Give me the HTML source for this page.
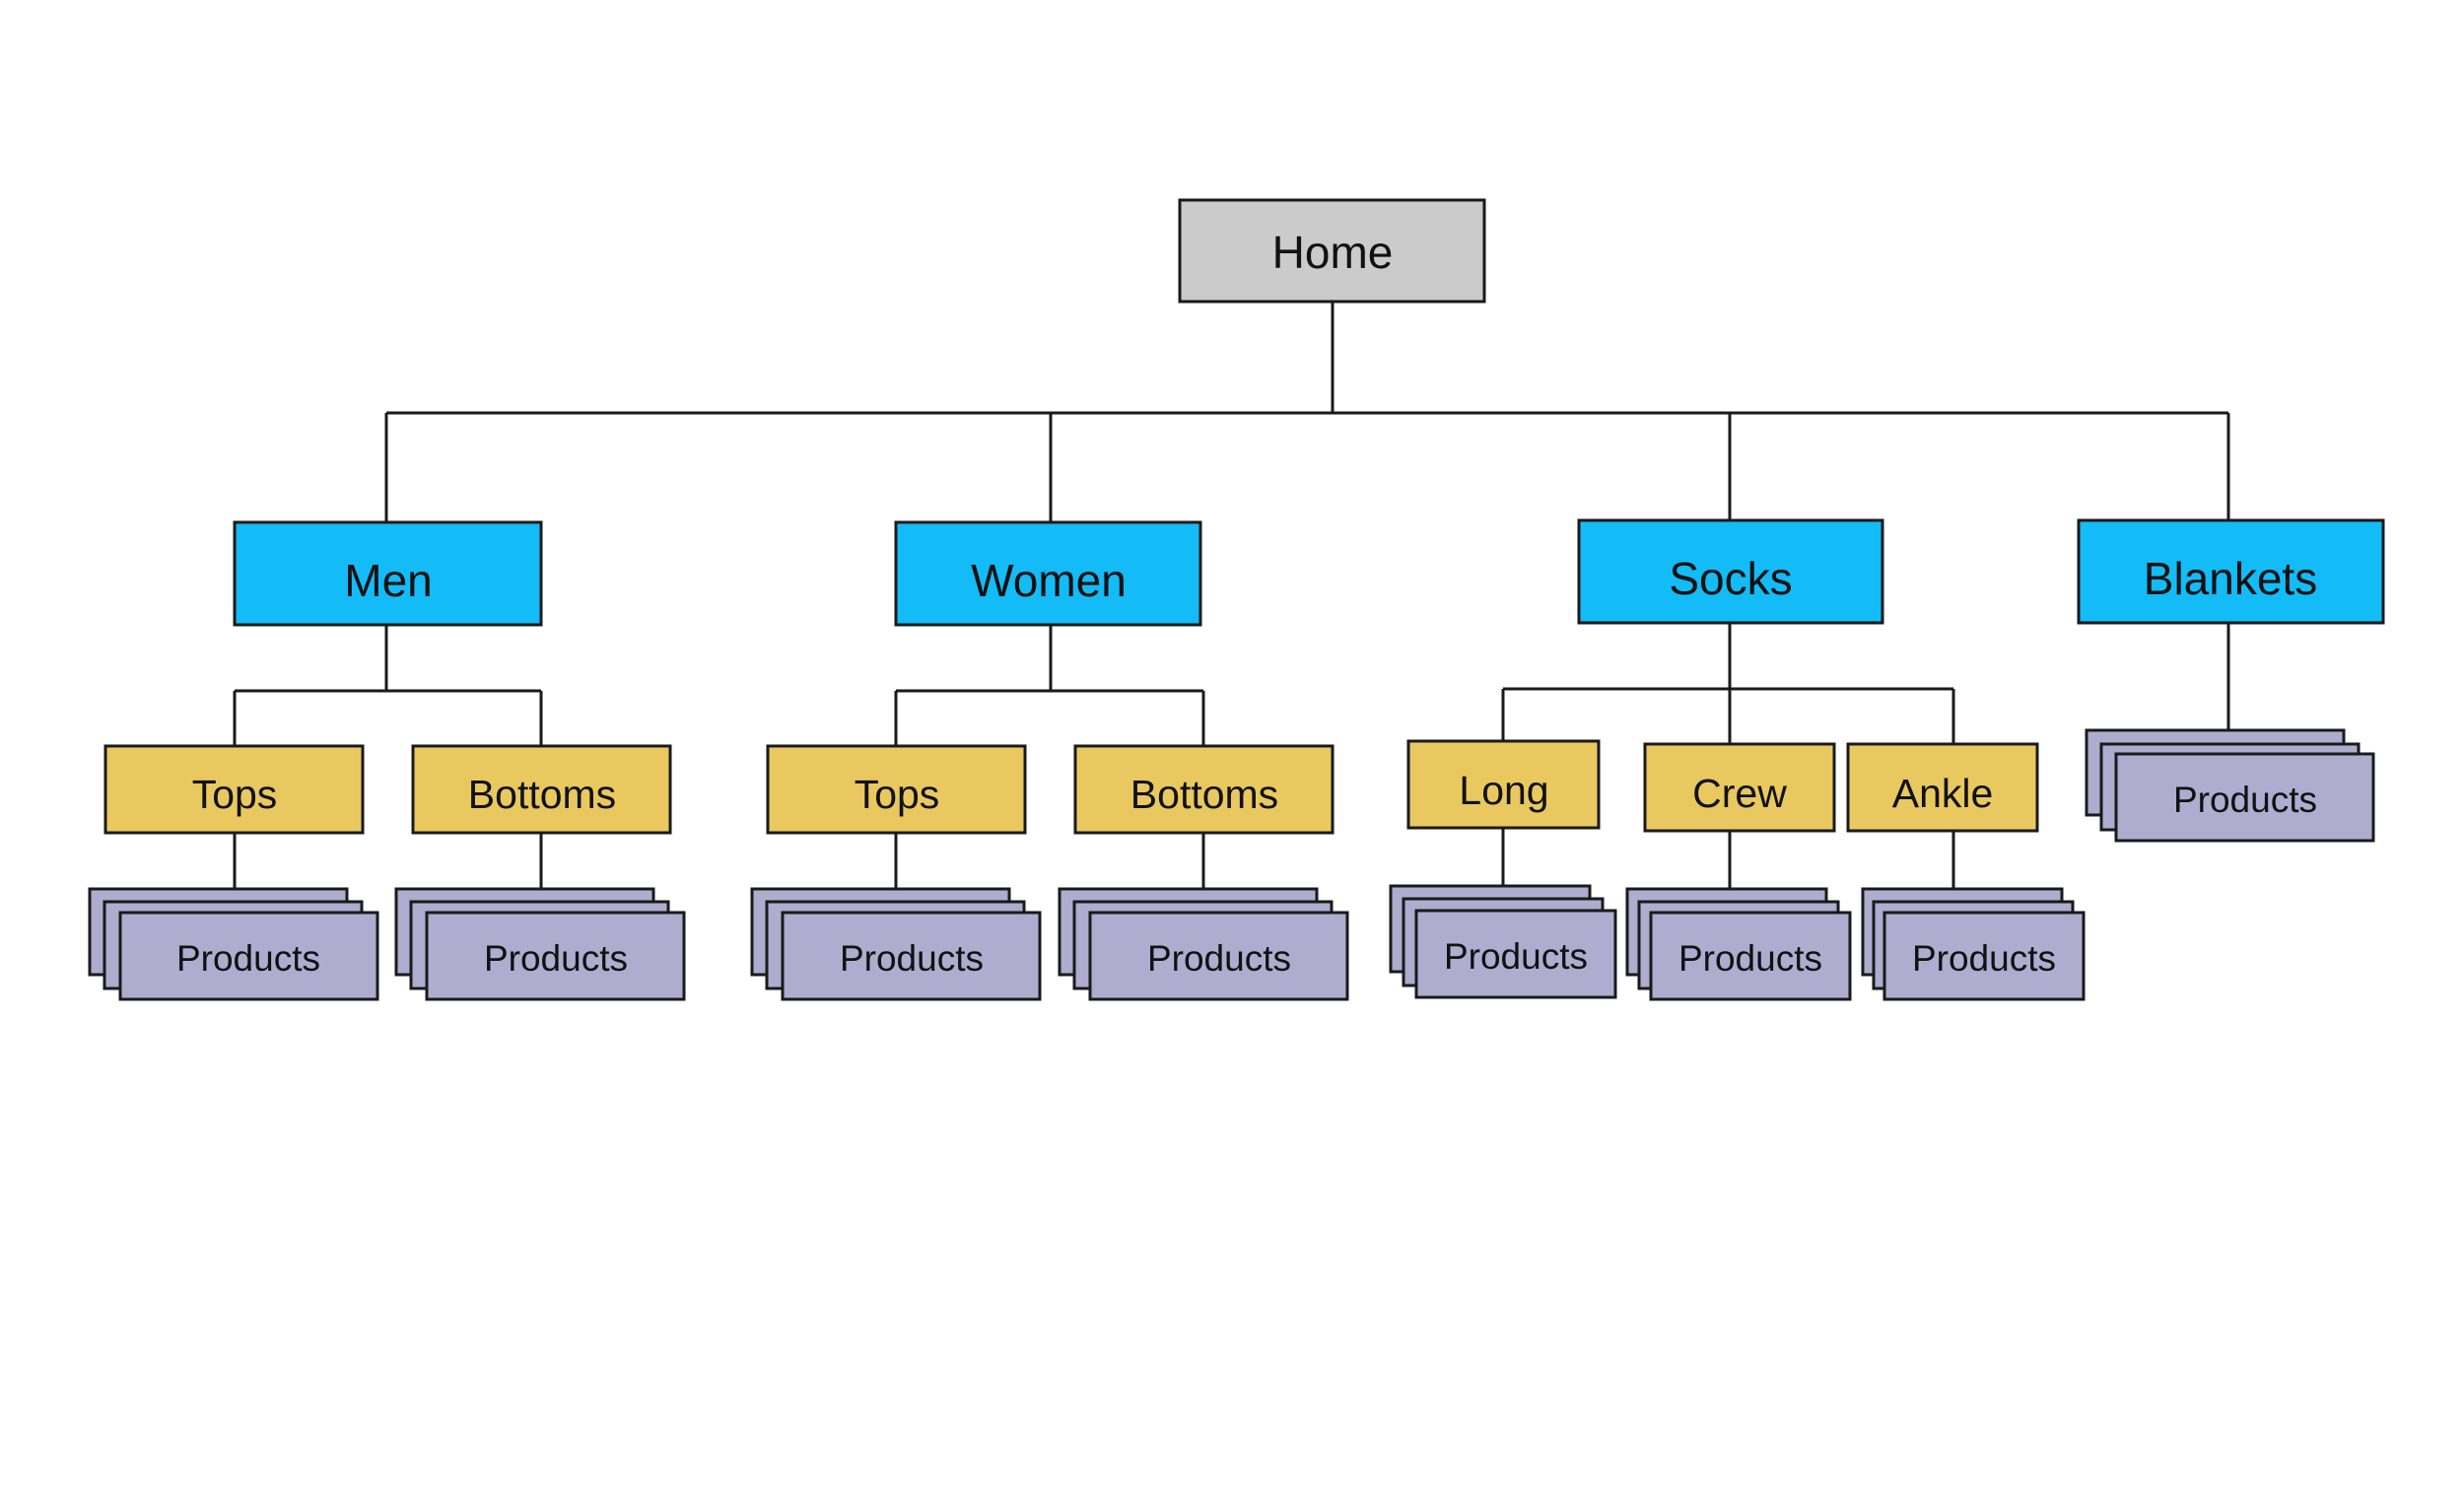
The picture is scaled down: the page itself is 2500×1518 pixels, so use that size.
<!DOCTYPE html>
<html><head><style>html,body{margin:0;padding:0;background:#fff}svg{display:block}</style></head>
<body>
<svg width="2500" height="1518" viewBox="0 0 2500 1518" xmlns="http://www.w3.org/2000/svg" font-family="Liberation Sans, sans-serif">
<g stroke="#1a1a1a" stroke-width="3" fill="none">
<line x1="1352" y1="306" x2="1352" y2="419"/>
<line x1="392" y1="419" x2="2261" y2="419"/>
<line x1="392" y1="419" x2="392" y2="530"/>
<line x1="1066" y1="419" x2="1066" y2="530"/>
<line x1="1755" y1="419" x2="1755" y2="528"/>
<line x1="2261" y1="419" x2="2261" y2="528"/>
<line x1="392" y1="634" x2="392" y2="701"/>
<line x1="238" y1="701" x2="549" y2="701"/>
<line x1="238" y1="701" x2="238" y2="757"/>
<line x1="549" y1="701" x2="549" y2="757"/>
<line x1="1066" y1="634" x2="1066" y2="701"/>
<line x1="909" y1="701" x2="1221" y2="701"/>
<line x1="909" y1="701" x2="909" y2="757"/>
<line x1="1221" y1="701" x2="1221" y2="757"/>
<line x1="1755" y1="632" x2="1755" y2="755"/>
<line x1="1525" y1="699" x2="1982" y2="699"/>
<line x1="1525" y1="699" x2="1525" y2="752"/>
<line x1="1982" y1="699" x2="1982" y2="755"/>
<line x1="2261" y1="632" x2="2261" y2="741"/>
<line x1="238" y1="845" x2="238" y2="902"/>
<line x1="549" y1="845" x2="549" y2="902"/>
<line x1="909" y1="845" x2="909" y2="902"/>
<line x1="1221" y1="845" x2="1221" y2="902"/>
<line x1="1525" y1="840" x2="1525" y2="899"/>
<line x1="1755" y1="843" x2="1755" y2="902"/>
<line x1="1982" y1="843" x2="1982" y2="902"/>
</g>
<g stroke="#1a1a1a" stroke-width="3">
<rect x="1197" y="203" width="309" height="103" fill="#cbcbcc"/>
<rect x="238" y="530" width="311" height="104" fill="#13bbf7"/>
<rect x="909" y="530" width="309" height="104" fill="#13bbf7"/>
<rect x="1602" y="528" width="308" height="104" fill="#13bbf7"/>
<rect x="2109" y="528" width="309" height="104" fill="#13bbf7"/>
<g fill="#e9c95f">
<rect x="107" y="757" width="261" height="88"/>
<rect x="419" y="757" width="261" height="88"/>
<rect x="779" y="757" width="261" height="88"/>
<rect x="1091" y="757" width="261" height="88"/>
<rect x="1429" y="752" width="193" height="88"/>
<rect x="1669" y="755" width="192" height="88"/>
<rect x="1875" y="755" width="192" height="88"/>
</g>
<g fill="#aeadd0">
<rect x="91" y="902" width="261" height="87"/><rect x="106" y="915" width="261" height="88"/><rect x="122" y="926" width="261" height="88"/>
<rect x="402" y="902" width="261" height="87"/><rect x="417" y="915" width="261" height="88"/><rect x="433" y="926" width="261" height="88"/>
<rect x="763" y="902" width="261" height="87"/><rect x="778" y="915" width="261" height="88"/><rect x="794" y="926" width="261" height="88"/>
<rect x="1075" y="902" width="261" height="87"/><rect x="1090" y="915" width="261" height="88"/><rect x="1106" y="926" width="261" height="88"/>
<rect x="1411" y="899" width="202" height="87"/><rect x="1424" y="912" width="202" height="88"/><rect x="1437" y="924" width="202" height="88"/>
<rect x="1651" y="902" width="202" height="87"/><rect x="1663" y="915" width="202" height="88"/><rect x="1675" y="926" width="202" height="88"/>
<rect x="1890" y="902" width="202" height="87"/><rect x="1901" y="915" width="202" height="88"/><rect x="1912" y="926" width="202" height="88"/>
<rect x="2117" y="741" width="261" height="86"/><rect x="2132" y="755" width="261" height="87"/><rect x="2147" y="765" width="261" height="88"/>
</g>
</g>
<g fill="#111" text-anchor="middle" font-size="46">
<text x="1352" y="272">Home</text>
<text x="394" y="605">Men</text>
<text x="1064" y="605">Women</text>
<text x="1756" y="603">Socks</text>
<text x="2263" y="603">Blankets</text>
</g>
<g fill="#111" text-anchor="middle" font-size="41">
<text x="238" y="820">Tops</text>
<text x="550" y="820">Bottoms</text>
<text x="910" y="820">Tops</text>
<text x="1222" y="820">Bottoms</text>
<text x="1526" y="816">Long</text>
<text x="1765" y="819">Crew</text>
<text x="1971" y="819">Ankle</text>
</g>
<g fill="#111" text-anchor="middle" font-size="37">
<text x="252" y="985">Products</text>
<text x="564" y="985">Products</text>
<text x="925" y="985">Products</text>
<text x="1237" y="985">Products</text>
<text x="1538" y="983">Products</text>
<text x="1776" y="985">Products</text>
<text x="2013" y="985">Products</text>
<text x="2278" y="824">Products</text>
</g>
</svg>
</body></html>
